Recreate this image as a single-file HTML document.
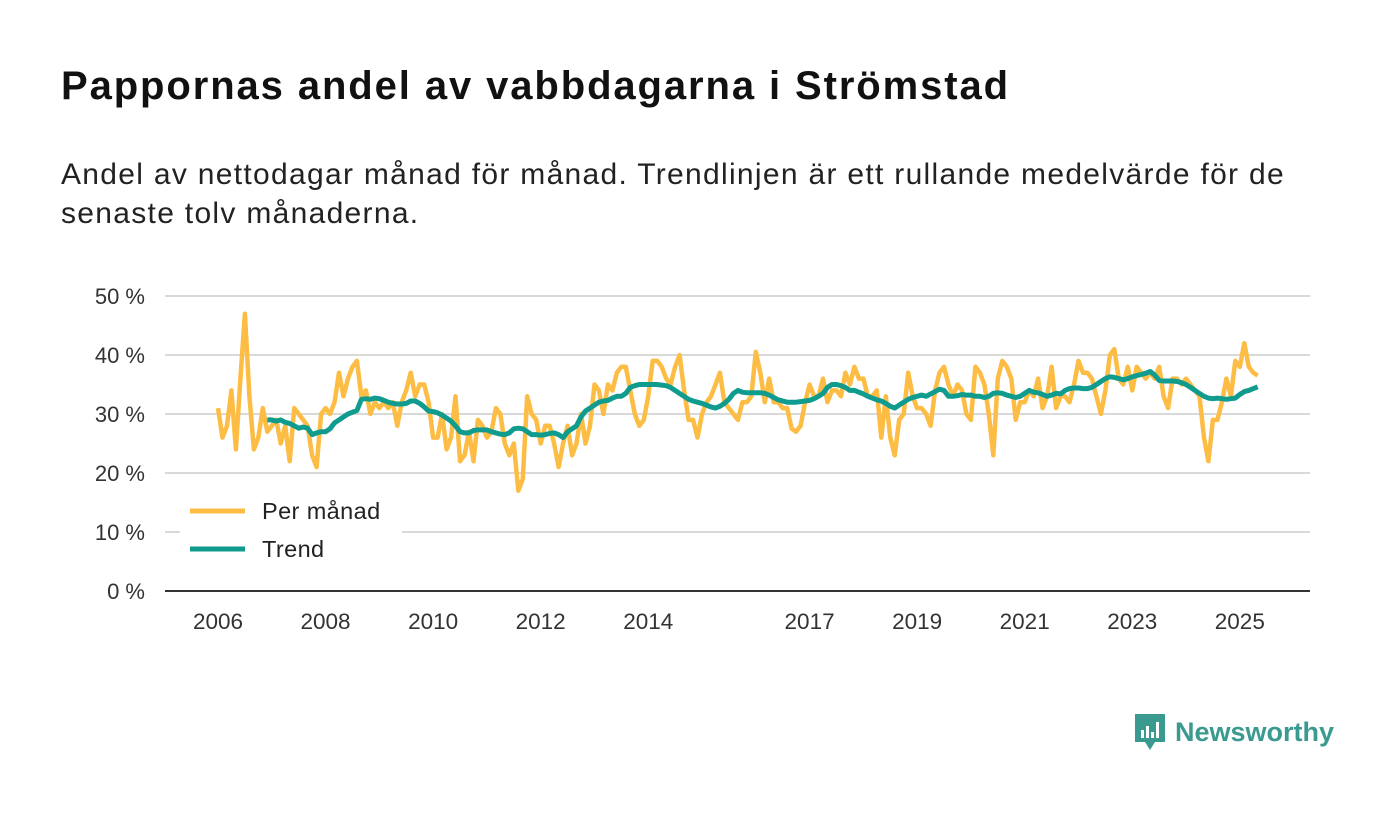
<!DOCTYPE html>
<html><head><meta charset="utf-8"><style>
body{margin:0;background:#fff;font-family:"Liberation Sans",sans-serif;}
#wrap{position:relative;width:1400px;height:813px;overflow:hidden;background:#fff;}
h1{position:absolute;left:61px;top:64px;margin:0;font-size:40px;font-weight:bold;color:#111;letter-spacing:1.9px;white-space:nowrap}
p.sub{position:absolute;left:61px;top:155px;margin:0;font-size:30px;line-height:39px;color:#222;width:1300px;letter-spacing:1.3px;white-space:nowrap}
</style></head><body>
<div id="wrap">
<h1>Pappornas andel av vabbdagarna i Strömstad</h1>
<p class="sub">Andel av nettodagar månad för månad. Trendlinjen är ett rullande medelvärde för de<br>senaste tolv månaderna.</p>
<svg id="chart" width="1400" height="813" style="position:absolute;left:0;top:0"></svg>
<div style="position:absolute;left:1133px;top:712px;height:40px;display:flex;align-items:center;">
<svg width="34" height="40"><path d="M2 2h30v28h-10l-5 8-5-8H2z" fill="#3a9a8f"/><rect x="8" y="18" width="3" height="8" fill="#fff"/><rect x="13" y="14" width="3" height="12" fill="#fff"/><rect x="18" y="20" width="3" height="6" fill="#fff"/><rect x="23" y="10" width="3" height="16" fill="#fff"/></svg>
<span style="font-size:27px;font-weight:bold;color:#3a9a8f;margin-left:8px">Newsworthy</span></div>
</div>
<script>
const yTicks=[0,10,20,30,40,50];
const xTickYears=[2006,2008,2010,2012,2014,2017,2019,2021,2023,2025];
const startYear=2006;
const monthly=[31,26,28,34,24,36,47,33,24,26,31,27,
28,29,25,28,22,31,30,29,28,23,21,30,
31,30,32,37,33,36,38,39,33,34,30,32,
31,32,31,32,28,32,34,37,33,35,35,32,
26,26,30,24,26,33,22,23,27,22,29,28,
26,27,31,30,25,23,25,17,19,33,30,29,
25,28,28,25,21,25,28,23,25,30,25,28,
35,34,30,35,34,37,38,38,34,30,28,29,
33,39,39,38,36,35,38,40,34,29,29,26,
30,32,33,35,37,32,31,30,29,32,32,33,
40.5,37,32,36,32,32,31,31,27.5,27,28,32,
35,33,33,36,32,34,34,33,37,35,38,36,
36,33,33,34,26,33,26,23,29,30,37,33,
31,31,30,28,34,37,38,35,33,35,34,30,
29,38,37,35,30,23,36,39,38,36,29,32,
32,34,33,36,31,33,38,31,33,33,32,35,
39,37,37,36,33,30,34,40,41,36,35,38,
34,38,37,36,37,36,38,33,31,36,36,35,
36,35,34,33,26,22,29,29,32,36,33,39,
38,42,38,37,36.5];
const trendStart=11;
const trend=[29,
29,28.8,29,28.6,28.4,28,27.6,27.8,27.6,26.5,26.8,27,
27,27.5,28.5,29,29.5,30,30.3,30.6,32.5,32.6,32.5,32.7,
32.6,32.3,32,31.8,31.7,31.7,31.8,32.2,32.2,31.8,31.2,30.5,
30.4,30.2,29.8,29.3,28.8,28,27,26.8,26.8,27.2,27.3,27.3,
27.3,27,26.8,26.6,26.5,26.8,27.5,27.6,27.5,27,26.5,26.5,
26.4,26.5,26.7,26.8,26.5,26,27,27.5,28,29.5,30.5,31,
31.5,32,32.2,32.3,32.7,33,33,33.5,34.5,34.8,35,35,
35,35,35,34.9,34.8,34.5,34,33.5,33,32.5,32.2,32,
31.8,31.5,31.2,31,31.3,31.8,32.5,33.5,34,33.7,33.6,33.6,
33.6,33.6,33.5,33.2,32.8,32.4,32.2,32,32,32,32.1,32.2,
32.3,32.6,33,33.5,34.5,35,35,34.8,34.5,34,34,33.7,
33.4,33,32.7,32.4,32.2,31.8,31.3,31,31.5,32,32.5,32.8,
33,33.2,33,33.4,33.8,34.2,34,33,33,33.1,33.3,33.2,
33.2,33,33,32.8,33,33.5,33.6,33.5,33.2,33,32.8,33,
33.5,34,33.7,33.6,33.3,33,33.2,33.5,33.4,34,34.3,34.4,
34.4,34.3,34.3,34.5,35,35.5,36,36.3,36.2,36,35.8,36,
36.3,36.5,36.7,36.9,37.2,36.6,35.7,35.6,35.6,35.6,35.5,35.3,
35,34.5,34,33.5,33,32.7,32.6,32.7,32.6,32.5,32.6,32.7,
33.3,33.8,34,34.3,34.6];
const svg=document.getElementById('chart');
const NS='http://www.w3.org/2000/svg';
const X0=218,PX_YEAR=53.78,Y0=591,PX_PCT=5.9;
function xScale(m){return X0+m*PX_YEAR/12;}
function yScale(v){return Y0-v*PX_PCT;}
function mk(t,a){const e=document.createElementNS(NS,t);for(const k in a)e.setAttribute(k,a[k]);svg.appendChild(e);return e;}
yTicks.forEach(v=>{
 const g=mk('line',{x1:165,x2:1310,y1:yScale(v),y2:yScale(v),stroke:v===0?'#333':'#d9d9d9','stroke-width':2});
 
 
 const t=mk('text',{x:145,y:yScale(v)+8,'text-anchor':'end','font-size':22,fill:'#333','font-family':'Liberation Sans, sans-serif'});
 t.textContent=v+' %';
 
 
});
xTickYears.forEach(yr=>{
 const x=xScale((yr-startYear)*12);
 const t=mk('text',{x:x,y:629,'text-anchor':'middle','font-size':22.5,fill:'#333','font-family':'Liberation Sans, sans-serif'});
 t.textContent=yr;
 
 
});
function pathFor(arr,off){return arr.map((v,i)=>(i?'L':'M')+xScale(i+off).toFixed(1)+' '+yScale(v).toFixed(1)).join(' ');}
const l1=mk('path',{d:pathFor(monthly,0),fill:'none',stroke:'#fdbd45','stroke-width':4.5,'stroke-linejoin':'round'});


const l2=mk('path',{d:pathFor(trend,trendStart),fill:'none',stroke:'#0f9b8e','stroke-width':5,'stroke-linejoin':'round'});


const lb=mk('rect',{x:180,y:490,width:222,height:78,fill:'#fff'});


[['Per månad','#fdbd45',511],['Trend','#0f9b8e',549]].forEach(([lab,c,y])=>{
 const s=mk('line',{x1:190,x2:245,y1:y,y2:y,stroke:c,'stroke-width':5});
 
 
 const t=mk('text',{x:262,y:y+8,'font-size':23.5,fill:'#222','font-family':'Liberation Sans, sans-serif','letter-spacing':0.4});
 t.textContent=lab;
 
 
});
</script>
</body></html>
